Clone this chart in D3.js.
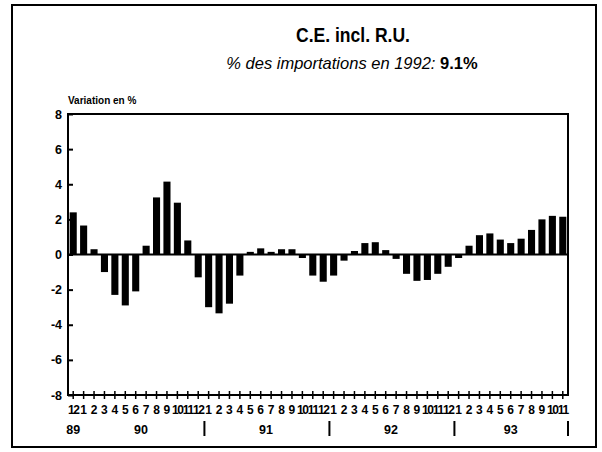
<!DOCTYPE html>
<html>
<head>
<meta charset="utf-8">
<script src="https://cdn.jsdelivr.net/npm/d3@7"></script>
<style>
  html, body { margin: 0; padding: 0; background: #fff; }
  svg { display: block; font-family: "Liberation Sans", Arial, Helvetica, sans-serif; }
</style>
</head>
<body>
<svg id="chart" width="602" height="452"></svg>
<script>
// Monthly change in imports (%), Dec 1989 – Nov 1993
const monthLabels = [
  "12",
  "1","2","3","4","5","6","7","8","9","10","11","12",
  "1","2","3","4","5","6","7","8","9","10","11","12",
  "1","2","3","4","5","6","7","8","9","10","11","12",
  "1","2","3","4","5","6","7","8","9","10","11"
];
const yearLabels = ["89", "90", "91", "92", "93"];
const values = [
  2.4,
  1.65, 0.3, -1.0, -2.3, -2.9, -2.1, 0.5, 3.25, 4.15, 2.95, 0.8, -1.3,
  -3.0, -3.35, -2.8, -1.2, 0.15, 0.35, 0.15, 0.3, 0.3, -0.2, -1.2, -1.55,
  -1.2, -0.35, 0.2, 0.65, 0.7, 0.25, -0.25, -1.1, -1.5, -1.45, -1.1, -0.7,
  -0.2, 0.5, 1.1, 1.2, 0.85, 0.65, 0.9, 1.4, 2.0, 2.2, 2.15
];
const yTicks = [-8, -6, -4, -2, 0, 2, 4, 6, 8];

const svg = d3.select("#chart");
const plot = { left: 68, right: 568, top: 114, bottom: 395 };

// outer frame
svg.append("rect")
  .attr("x", 12).attr("y", 5).attr("width", 584).attr("height", 442)
  .attr("fill", "none").attr("stroke", "#000").attr("stroke-width", 2);

// titles
svg.append("text")
  .attr("x", 353).attr("y", 42)
  .attr("text-anchor", "middle")
  .attr("font-size", 21).attr("font-weight", "bold")
  .attr("textLength", 114).attr("lengthAdjust", "spacingAndGlyphs")
  .text("C.E. incl. R.U.");

const sub = svg.append("text")
  .attr("x", 352).attr("y", 69)
  .attr("text-anchor", "middle")
  .attr("font-size", 16.5);
sub.append("tspan").attr("font-style", "italic").text("% des importations en 1992: ");
sub.append("tspan").attr("font-weight", "bold").text("9.1%");

svg.append("text")
  .attr("x", 68).attr("y", 104)
  .attr("font-size", 10).attr("font-weight", "bold")
  .text("Variation en %");

// scales
const x = d3.scaleBand()
  .domain(d3.range(values.length))
  .range([plot.left, plot.right])
  .paddingInner(0.32)
  .paddingOuter(0.16);

const y = d3.scaleLinear()
  .domain([-8, 8])
  .range([plot.bottom, plot.top]);

// bars
svg.append("g")
  .selectAll("rect")
  .data(values)
  .join("rect")
  .attr("x", (d, i) => x(i))
  .attr("width", x.bandwidth())
  .attr("y", d => y(Math.max(0, d)))
  .attr("height", d => Math.abs(y(d) - y(0)))
  .attr("fill", "#000");

// zero line
svg.append("line")
  .attr("x1", plot.left).attr("x2", plot.right)
  .attr("y1", y(0)).attr("y2", y(0))
  .attr("stroke", "#000").attr("stroke-width", 2);

// plot box
svg.append("rect")
  .attr("x", plot.left).attr("y", plot.top)
  .attr("width", plot.right - plot.left).attr("height", plot.bottom - plot.top)
  .attr("fill", "none").attr("stroke", "#000").attr("stroke-width", 2);

// y axis
const yAxis = svg.append("g")
  .attr("transform", `translate(${plot.left},0)`)
  .call(d3.axisRight(y).tickValues(yTicks).tickSize(5).tickFormat(""));
yAxis.select(".domain").remove();
yAxis.selectAll("line").attr("stroke-width", 2);

svg.append("g")
  .selectAll("text")
  .data(yTicks)
  .join("text")
  .attr("x", 62)
  .attr("y", d => y(d) + 4.5)
  .attr("text-anchor", "end")
  .attr("font-size", 12.5).attr("font-weight", "bold")
  .text(d => d < 0 ? "-" + Math.abs(d) : d);

// x axis ticks crossing the baseline
const xAxis = svg.append("g")
  .attr("transform", `translate(0,${plot.bottom + 4})`)
  .call(d3.axisTop(x).tickSize(8).tickFormat(""));
xAxis.select(".domain").remove();
xAxis.selectAll("line").attr("stroke-width", 1.5);

// month labels
svg.append("g")
  .selectAll("text")
  .data(monthLabels)
  .join("text")
  .attr("x", (d, i) => x(i) + x.bandwidth() / 2)
  .attr("y", 414)
  .attr("text-anchor", "middle")
  .attr("font-size", 12).attr("font-weight", "bold")
  .attr("letter-spacing", d => d.length > 1 ? -1.4 : 0)
  .text(d => d);

// year groups: start at each January
const starts = [0];
monthLabels.forEach((m, i) => { if (m === "1") starts.push(i); });
const groups = starts.map((s, k) => ({
  label: yearLabels[k],
  start: s,
  end: (k + 1 < starts.length ? starts[k + 1] : monthLabels.length) - 1
}));

svg.append("g")
  .selectAll("text")
  .data(groups)
  .join("text")
  .attr("x", g => (x(g.start) + x(g.end) + x.bandwidth()) / 2)
  .attr("y", 434)
  .attr("text-anchor", "middle")
  .attr("font-size", 12.5).attr("font-weight", "bold")
  .text(g => g.label);

// separators after each full year
const step = x.step();
svg.append("g")
  .selectAll("line")
  .data(groups.slice(1))
  .join("line")
  .attr("x1", g => Math.min(plot.right, x(g.end) + x.bandwidth() + (step - x.bandwidth()) / 2 + 1))
  .attr("x2", g => Math.min(plot.right, x(g.end) + x.bandwidth() + (step - x.bandwidth()) / 2 + 1))
  .attr("y1", 421).attr("y2", 436)
  .attr("stroke", "#000").attr("stroke-width", 2);
</script>
</body>
</html>
